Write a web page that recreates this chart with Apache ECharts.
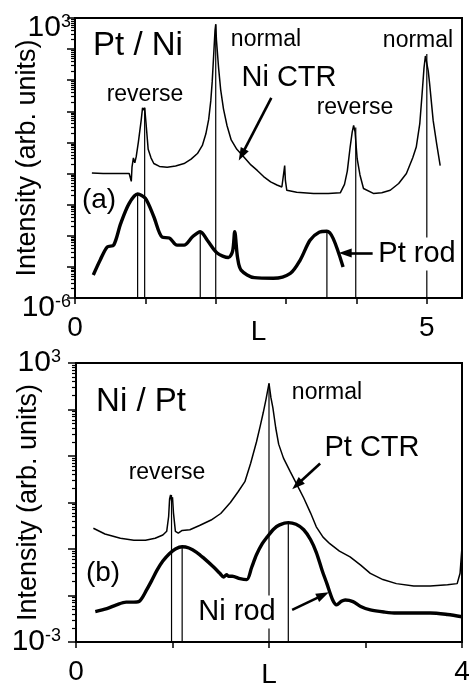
<!DOCTYPE html>
<html>
<head>
<meta charset="utf-8">
<script src="https://cdn.jsdelivr.net/npm/echarts@6/dist/echarts.min.js"></script>
<style>
  html, body { margin: 0; padding: 0; background: #fff; }
  #chart { width: 469px; height: 685px; }
</style>
</head>
<body>
<div id="chart"></div>
<script>
// ---- Panel (a): Pt / Ni ----
// Ni crystal truncation rod, [L, intensity]
const niCtrA = [
  [0.24, 1.05e-2], [0.40, 1.0e-2], [0.60, 1.0e-2], [0.77, 1.0e-2], [0.80, 5.6e-3],
  [0.81, 1.6e-2], [0.83, 3.2e-2], [0.85, 2.2e-2], [0.87, 3.5e-2], [0.90, 1.0e-1],
  [0.94, 5e-1], [0.96, 1.3], [0.97, 1.45], [0.98, 1.1], [0.99, 1.3], [1.01, 4e-1],
  [1.04, 6e-2], [1.08, 3.2e-2], [1.12, 2.1e-2], [1.20, 1.7e-2], [1.31, 1.6e-2],
  [1.43, 1.75e-2], [1.55, 2.1e-2], [1.65, 2.9e-2], [1.74, 4.4e-2], [1.81, 8e-2],
  [1.86, 1.9e-1], [1.90, 5.5e-1], [1.93, 2.2], [1.95, 9], [1.97, 60], [1.99, 400],
  [2.00, 630], [2.01, 200], [2.04, 26], [2.07, 5], [2.11, 1.2], [2.16, 3.5e-1],
  [2.22, 1.2e-1], [2.30, 6e-2], [2.40, 3.4e-2], [2.50, 1.9e-2], [2.59, 1.26e-2],
  [2.68, 8e-3], [2.78, 5.4e-3], [2.87, 4.3e-3], [2.94, 3.7e-3], [2.97, 1.2e-2],
  [2.98, 1.8e-2], [2.99, 6e-3], [3.01, 2.9e-3], [3.15, 2.5e-3], [3.39, 2.3e-3],
  [3.60, 2.3e-3], [3.77, 2.4e-3], [3.83, 4.5e-3], [3.87, 1.2e-2], [3.91, 7e-2],
  [3.94, 2.2e-1], [3.96, 3.5e-1], [3.98, 2.2e-1], [4.01, 3e-2], [4.05, 9e-3],
  [4.10, 3.3e-3], [4.24, 2.3e-3], [4.36, 2.4e-3], [4.48, 2.9e-3], [4.60, 4.8e-3],
  [4.71, 1.0e-2], [4.80, 3.2e-2], [4.85, 7.1e-2], [4.90, 4e-1], [4.93, 3],
  [4.96, 25], [4.98, 60], [5.00, 69], [5.02, 20], [5.04, 7.6], [5.09, 5.1e-1],
  [5.14, 9e-2], [5.19, 1.8e-2]
];
// Pt rod
const ptRodA = [
  [0.26, 5.5e-6], [0.36, 1.7e-5], [0.46, 4.4e-5], [0.55, 5.0e-5], [0.65, 2.5e-4],
  [0.77, 1.1e-3], [0.89, 2.2e-3], [1.00, 1.6e-3], [1.12, 4.1e-4], [1.24, 9e-5],
  [1.34, 8.5e-5], [1.45, 5e-5], [1.55, 5e-5], [1.67, 9.3e-5], [1.78, 1.35e-4],
  [1.88, 7.2e-5], [2.02, 2.8e-5], [2.18, 2.0e-5], [2.24, 3.2e-5], [2.27, 1.35e-4],
  [2.31, 2.0e-5], [2.36, 7.9e-6], [2.55, 4.5e-6], [2.82, 4.3e-6], [3.06, 6.2e-6],
  [3.20, 1.66e-5], [3.34, 7.2e-5], [3.47, 1.3e-4], [3.58, 1.4e-4], [3.67, 8.1e-5],
  [3.81, 1.0e-5]
];
// peak marker lines: [L, top intensity]
const peakLinesA = [
  [0.89, 2.2e-3], [0.99, 1.3], [1.78, 1.35e-4], [2.00, 630],
  [3.58, 1.4e-4], [3.99, 3.0e-1], [5.00, 69]
];

// ---- Panel (b): Ni / Pt ----
const ptCtrB = [
  [0.18, 0.28], [0.30, 0.21], [0.46, 0.17], [0.60, 0.155], [0.72, 0.155], [0.82, 0.17],
  [0.90, 0.20], [0.94, 0.24], [0.96, 0.5], [0.97, 1.2], [0.98, 1.45], [0.99, 1.1],
  [1.00, 1.3], [1.01, 0.6], [1.03, 0.24], [1.06, 0.22], [1.10, 0.25], [1.18, 0.26],
  [1.28, 0.32], [1.40, 0.42], [1.50, 0.58], [1.60, 1.0], [1.68, 1.7], [1.75, 2.8],
  [1.81, 7], [1.87, 20], [1.91, 45], [1.94, 85], [1.97, 170], [2.00, 363],
  [2.02, 180], [2.04, 110], [2.07, 40], [2.10, 18], [2.15, 9], [2.22, 4.6],
  [2.30, 2.2], [2.36, 1.25], [2.43, 0.6], [2.49, 0.3], [2.56, 0.18], [2.63, 0.13],
  [2.73, 0.09], [2.84, 0.068], [2.95, 0.045], [3.05, 0.03], [3.18, 0.022],
  [3.32, 0.018], [3.50, 0.016], [3.67, 0.016], [3.85, 0.017], [3.95, 0.018],
  [3.98, 0.03], [4.00, 0.11]
];
const niRodB = [
  [0.20, 4.5e-3], [0.32, 5.2e-3], [0.42, 6.3e-3], [0.52, 7.2e-3], [0.60, 7.2e-3],
  [0.66, 7.6e-3], [0.73, 1.3e-2], [0.79, 2.2e-2], [0.84, 3.5e-2], [0.90, 5.5e-2],
  [0.97, 8e-2], [1.03, 0.1], [1.10, 0.112], [1.17, 0.105], [1.25, 0.085],
  [1.33, 0.062], [1.42, 0.042], [1.49, 0.03], [1.53, 0.025], [1.56, 0.028],
  [1.58, 0.026], [1.62, 0.026], [1.70, 0.023], [1.77, 0.022], [1.82, 0.04],
  [1.87, 0.075], [1.93, 0.13], [1.98, 0.18], [2.05, 0.27], [2.11, 0.33],
  [2.20, 0.37], [2.28, 0.34], [2.36, 0.26], [2.43, 0.16], [2.49, 0.085],
  [2.55, 0.035], [2.60, 0.018], [2.66, 8e-3], [2.70, 6.3e-3], [2.75, 7.5e-3],
  [2.79, 8e-3], [2.87, 7.4e-3], [2.95, 5.8e-3], [3.05, 4.9e-3], [3.20, 4.4e-3],
  [3.32, 4.2e-3], [3.50, 4.2e-3], [3.67, 4.2e-3], [3.85, 3.9e-3], [4.00, 3.5e-3]
];
const peakLinesB = [
  [0.99, 1.45], [1.10, 0.112], [2.00, 363], [2.20, 0.37]
];

// axis ranges and tick labels
const xRangeA = [0, 5.5];
const xRangeB = [0, 4];
const xTicksA = [0, 1, 2, 3, 4, 5];
const xTicksB = [0, 1, 2, 3, 4];
const xLabelsA = [0, 5];
const xLabelsB = [0, 4];
const yRangeA = [1e-6, 1e3];
const yRangeB = [1e-3, 1e3];
const yLabelsA = [1e-6, 1e3];
const yLabelsB = [1e-3, 1e3];

const FONT = '"Liberation Sans", Arial, Helvetica, sans-serif';
const BLACK = '#000';

// minor log ticks (2..9 x each decade)
function minorTicks(range) {
  const out = [];
  const lo = Math.round(Math.log10(range[0]));
  const hi = Math.round(Math.log10(range[1]));
  for (let e = lo; e < hi; e++) {
    for (let m = 2; m <= 9; m++) out.push(+(m * Math.pow(10, e)).toPrecision(3));
  }
  return out;
}

function powLabel(labels) {
  return function (v) {
    const hit = labels.some(t => Math.abs(Math.log10(t) - Math.log10(v)) < 1e-6);
    if (!hit) return '';
    const e = Math.round(Math.log10(v));
    return '{b|10}{s|' + e + '}';
  };
}

const powRich = {
  b: { fontSize: 30, fontFamily: FONT, color: BLACK, verticalAlign: 'bottom', lineHeight: 30 },
  s: { fontSize: 18, fontFamily: FONT, color: BLACK, verticalAlign: 'top', lineHeight: 18 }
};

function xAxisFor(grid, range, ticks, labels, nameGap, namePad) {
  return {
    gridIndex: grid, type: 'value', min: range[0], max: range[1], interval: 1,
    axisLine: { lineStyle: { color: BLACK, width: 2 } },
    axisTick: { length: 6, lineStyle: { color: BLACK, width: 1.5 }, customValues: ticks },
    axisLabel: {
      customValues: labels, color: BLACK, fontSize: 28, fontFamily: FONT, margin: 16
    },
    splitLine: { show: false },
    name: 'L', nameLocation: 'middle', nameGap: nameGap, nameMoveOverlap: false,
    nameTextStyle: { color: BLACK, fontSize: 28, fontFamily: FONT, padding: namePad }
  };
}

function yAxisMajor(grid, range, labels, margin, pad) {
  return {
    gridIndex: grid, type: 'log', logBase: 10, min: range[0], max: range[1], interval: 1,
    position: 'left',
    axisLine: { lineStyle: { color: BLACK, width: 2 } },
    axisTick: { length: 8, lineStyle: { color: BLACK, width: 1.5 } },
    axisLabel: {
      formatter: powLabel(labels), rich: powRich, margin: margin, padding: pad,
      showMinLabel: true, showMaxLabel: true
    },
    splitLine: { show: false },
    name: 'Intensity (arb. units)', nameLocation: 'middle', nameGap: 34, nameRotate: 90,
    nameMoveOverlap: false,
    nameTextStyle: { color: BLACK, fontSize: 27, fontFamily: FONT }
  };
}

function yAxisMinor(grid, range) {
  return {
    gridIndex: grid, type: 'log', logBase: 10, min: range[0], max: range[1],
    position: 'left', offset: 0,
    axisLine: { show: false },
    axisTick: { length: 4, lineStyle: { color: BLACK, width: 1.2 }, customValues: minorTicks(range) },
    axisLabel: { show: false },
    splitLine: { show: false }
  };
}

function curve(data, xi, yi, width, smooth, extra) {
  return Object.assign({
    type: 'line', xAxisIndex: xi, yAxisIndex: yi, data: data, symbol: 'none',
    smooth: smooth, lineStyle: { color: BLACK, width: width }, z: 3, silent: true
  }, extra || {});
}

function peakLines(list, xi, yi, floor) {
  return list.map(p => ({
    type: 'line', xAxisIndex: xi, yAxisIndex: yi, symbol: 'none', silent: true,
    data: [[p[0], p[1]], [p[0], floor]],
    lineStyle: { color: BLACK, width: 1.2 }, z: 2
  }));
}

function arrow(from, to) {
  return {
    silent: true, symbol: ['none', 'triangle'], symbolSize: [9, 13],
    lineStyle: { color: BLACK, width: 2.6, type: 'solid' },
    label: { show: false },
    data: [[{ coord: from }, { coord: to }]]
  };
}

function txt(x, y, text, size, bg) {
  const style = {
    text: text, x: 0, y: 0, fill: BLACK, font: size + 'px ' + FONT,
    align: 'center', verticalAlign: 'middle'
  };
  if (bg) { style.backgroundColor = '#fff'; style.padding = [2, 3]; }
  return { type: 'text', x: x, y: y, z: 100, style: style, silent: true };
}

const chart = echarts.init(document.getElementById('chart'), null, { renderer: 'canvas' });

const gridBase = {
  show: true, borderColor: BLACK, borderWidth: 2,
  containLabel: false, outerBoundsMode: 'none'
};

chart.setOption({
  backgroundColor: '#fff',
  animation: false,
  grid: [
    Object.assign({ left: 75, top: 18, width: 387, height: 280 }, gridBase),
    Object.assign({ left: 76, top: 363, width: 386, height: 279 }, gridBase)
  ],
  xAxis: [
    xAxisFor(0, xRangeA, xTicksA, xLabelsA, 20, [0, 20, 0, 0]),
    xAxisFor(1, xRangeB, xTicksB, xLabelsB, 19, 0)
  ],
  yAxis: [
    yAxisMajor(0, yRangeA, yLabelsA, 4, [20, 0, 0, 0]),
    yAxisMinor(0, yRangeA),
    yAxisMajor(1, yRangeB, yLabelsB, 15, 0),
    yAxisMinor(1, yRangeB)
  ],
  series: [
    curve(niCtrA, 0, 0, 1.5, false, { markLine: arrow([2.79, 2.7], [2.37, 0.04]) }),
    curve(ptRodA, 0, 0, 3.4, 0.3, { markLine: arrow([4.23, 2.8e-5], [3.84, 2.8e-5]) }),
    ...peakLines(peakLinesA, 0, 0, yRangeA[0]),
    curve(ptCtrB, 1, 2, 1.5, false, { markLine: arrow([2.53, 6.9], [2.29, 2.4]) }),
    curve(niRodB, 1, 2, 3.4, 0.3, { markLine: arrow([2.24, 4.9e-3], [2.56, 1.02e-2]) }),
    ...peakLines(peakLinesB, 1, 2, yRangeB[0])
  ],
  graphic: [
    txt(138, 46, 'Pt / Ni', 33),
    txt(145, 95, 'reverse', 23),
    txt(266, 40, 'normal', 23),
    txt(289, 78, 'Ni CTR', 29),
    txt(355, 108, 'reverse', 23),
    txt(418, 41, 'normal', 23),
    txt(99, 200, '(a)', 28),
    txt(417, 254, 'Pt rod', 29, true),
    txt(141, 402, 'Ni / Pt', 33),
    txt(167, 473, 'reverse', 23),
    txt(327, 393, 'normal', 23),
    txt(372, 448, 'Pt CTR', 29),
    txt(103, 573, '(b)', 28),
    txt(237, 612, 'Ni rod', 29, true)
  ]
});
</script>
</body>
</html>
